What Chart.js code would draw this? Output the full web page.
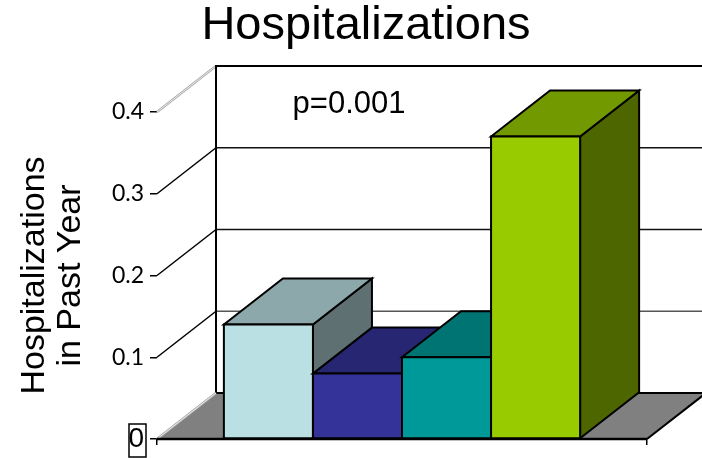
<!DOCTYPE html>
<html><head><meta charset="utf-8">
<script src="https://cdn.jsdelivr.net/npm/chart.js@4.4.1/dist/chart.umd.min.js"></script>
<style>html,body{margin:0;padding:0;background:#fff}canvas{display:block}</style>
</head><body>
<canvas id="c" width="702" height="458"></canvas>
<script>
// ---- data ----
const chartTitle = 'Hospitalizations';
const yAxisTitle = ['Hospitalizations', 'in Past Year'];
const annotationText = 'p=0.001';
const categories = [''];
const seriesNames = ['Group 1', 'Group 2', 'Group 3', 'Group 4'];
const seriesValues = [[0.14], [0.08], [0.10], [0.37]];
const seriesColors = ['#BBE0E3', '#333399', '#009999', '#99CC00'];
const yTickValues = [0, 0.1, 0.2, 0.3, 0.4];
const yTickLabels = ['0', '0.1', '0.2', '0.3', '0.4'];

// ---- 3D look ----
const DEPTH_X = 59, DEPTH_Y = -46;
function shade(hex, f) {
  const n = parseInt(hex.slice(1), 16);
  const r = Math.round(((n >> 16) & 255) * f), g = Math.round(((n >> 8) & 255) * f), b = Math.round((n & 255) * f);
  return `rgb(${r},${g},${b})`;
}
function poly(ctx, pts, fill, stroke, lw) {
  ctx.beginPath();
  ctx.moveTo(pts[0][0], pts[0][1]);
  for (let i = 1; i < pts.length; i++) ctx.lineTo(pts[i][0], pts[i][1]);
  ctx.closePath();
  if (fill) { ctx.fillStyle = fill; ctx.fill(); }
  if (stroke) { ctx.strokeStyle = stroke; ctx.lineWidth = lw; ctx.stroke(); }
}
function line(ctx, x1, y1, x2, y2, color, lw) {
  ctx.beginPath(); ctx.moveTo(x1, y1); ctx.lineTo(x2, y2);
  ctx.strokeStyle = color; ctx.lineWidth = lw; ctx.stroke();
}

const threeD = {
  id: 'threeD',
  beforeDatasetsDraw(chart) {
    const {ctx, chartArea: a, scales: {y}} = chart;
    const W = chart.width;
    const y0 = y.getPixelForValue(yTickValues[0]);
    const yTop = y.getPixelForValue(yTickValues[yTickValues.length - 1]);
    ctx.save();
    ctx.lineJoin = 'miter';
    // back wall gridlines + left wall diagonals
    yTickValues.forEach((v, i) => {
      if (i === 0) return;
      const py = y.getPixelForValue(v);
      const last = i === yTickValues.length - 1;
      const gc = last ? '#000' : (i === 1 ? '#555' : '#111');
      line(ctx, a.left + DEPTH_X, py + DEPTH_Y, Math.min(W, a.right + DEPTH_X), py + DEPTH_Y, gc, last ? 2.2 : 1.5);
      if (last) {
        line(ctx, a.left, py, a.left + DEPTH_X, py + DEPTH_Y, '#a8a8a8', 2.4);
        line(ctx, a.left, py, a.left + DEPTH_X, py + DEPTH_Y, '#ffffff', 0.8);
      } else {
        line(ctx, a.left, py, a.left + DEPTH_X, py + DEPTH_Y, '#000', 1.5);
      }
    });
    // back wall left edge
    line(ctx, a.left + DEPTH_X, yTop + DEPTH_Y - 1, a.left + DEPTH_X, y0 + DEPTH_Y, '#000', 2);
    // floor
    const fl = [[a.left, y0], [a.right, y0], [a.right + DEPTH_X, y0 + DEPTH_Y], [a.left + DEPTH_X, y0 + DEPTH_Y]];
    poly(ctx, fl, '#808080', null, 0);
    line(ctx, a.left + DEPTH_X, y0 + DEPTH_Y, a.right + DEPTH_X, y0 + DEPTH_Y, '#000', 2);
    line(ctx, a.right, y0, a.right + DEPTH_X, y0 + DEPTH_Y, '#000', 2);
    line(ctx, a.left, y0, a.left + DEPTH_X, y0 + DEPTH_Y, '#a8a8a8', 2.4);
    line(ctx, a.left, y0, a.left + DEPTH_X, y0 + DEPTH_Y, '#ffffff', 0.8);
    line(ctx, a.left, y0, a.right, y0, '#000', 2.4);
    ctx.restore();
  },
  afterDatasetsDraw(chart) {
    const {ctx} = chart;
    ctx.save();
    ctx.lineJoin = 'miter';
    seriesValues.forEach((vals, di) => {
      const meta = chart.getDatasetMeta(di);
      meta.data.forEach((bar) => {
        const {x, y, base, width} = bar.getProps(['x', 'y', 'base', 'width'], true);
        const l = x - width / 2, r = x + width / 2;
        const col = seriesColors[di];
        // right side
        poly(ctx, [[r, y], [r + DEPTH_X, y + DEPTH_Y], [r + DEPTH_X, base + DEPTH_Y], [r, base]], shade(col, 0.5), '#000', 2);
        // top
        poly(ctx, [[l, y], [l + DEPTH_X, y + DEPTH_Y], [r + DEPTH_X, y + DEPTH_Y], [r, y]], shade(col, 0.75), '#000', 2);
        // front
        poly(ctx, [[l, y], [r, y], [r, base], [l, base]], col, '#000', 2);
      });
    });
    ctx.restore();
  },
  afterDraw(chart) {
    const {ctx, chartArea: a, scales: {y}} = chart;
    ctx.save();
    ctx.fillStyle = '#000';
    ctx.textAlign = 'center';
    ctx.textBaseline = 'alphabetic';
    ctx.font = '47px "Liberation Sans", Arial, sans-serif';
    ctx.fillText(chartTitle, 366, 39);
    ctx.font = '31px "Liberation Sans", Arial, sans-serif';
    ctx.fillText(annotationText, a.left + 192, y.getPixelForValue(yTickValues[yTickValues.length - 1]) + 1);
    // selection box around the "0" tick label
    const y0 = y.getPixelForValue(yTickValues[0]);
    ctx.strokeStyle = '#000';
    ctx.lineWidth = 1.5;
    ctx.strokeRect(a.left - 28, y0 - 15, 17, 33);
    ctx.restore();
  }
};

new Chart(document.getElementById('c'), {
  type: 'bar',
  data: {
    labels: categories,
    datasets: seriesNames.map((name, i) => ({
      label: name,
      data: seriesValues[i],
      backgroundColor: seriesColors[i],
      borderColor: '#000',
      borderWidth: 2,
      barPercentage: 1,
      categoryPercentage: 0.727
    }))
  },
  options: {
    responsive: false,
    animation: false,
    devicePixelRatio: 1,
    layout: {padding: {top: 112, right: 55, bottom: 0, left: 0}},
    plugins: {legend: {display: false}, tooltip: {enabled: false}, title: {display: false}},
    scales: {
      x: {
        grid: {display: true, offset: true, drawOnChartArea: false, drawTicks: true, tickLength: 6, color: '#000', lineWidth: 1.5},
        border: {display: false},
        ticks: {display: false},
        afterFit(scale) { scale.height = 19; }
      },
      y: {
        min: 0, max: 0.4,
        grid: {display: true, drawOnChartArea: false, drawTicks: true, tickLength: 7, color: '#000', lineWidth: 1.5},
        border: {display: false},
        ticks: {
          stepSize: 0.1,
          padding: 6,
          color: '#000',
          font: (c) => (c.tick && c.tick.value === 0)
            ? {family: '"Liberation Sans", sans-serif', size: 28, lineHeight: 0.5}
            : {family: 'Lato, "Liberation Sans", sans-serif', size: 23, lineHeight: 0.8},
          callback: (v, i) => yTickLabels[i]
        },
        title: {
          display: true,
          text: yAxisTitle,
          color: '#000',
          font: {family: '"Liberation Sans", Arial, sans-serif', size: 34, lineHeight: 1.06},
          padding: {top: 17, bottom: 0}
        },
        afterFit(scale) { scale.width = 157; }
      }
    }
  },
  plugins: [threeD]
});
</script>
</body></html>
